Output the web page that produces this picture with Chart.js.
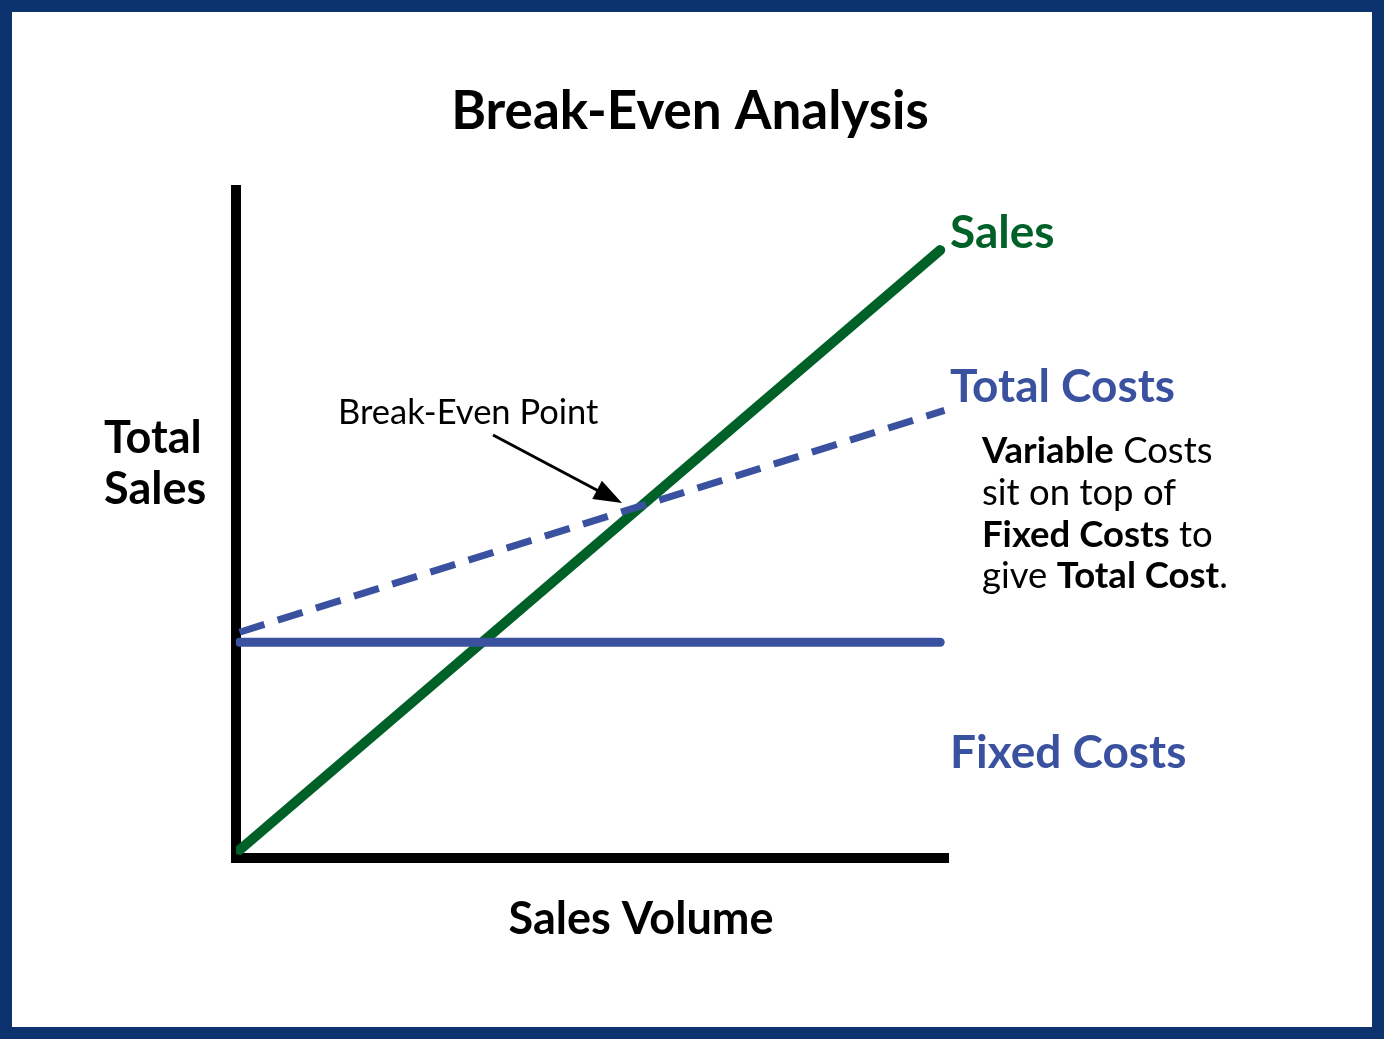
<!DOCTYPE html>
<html><head><meta charset="utf-8">
<script src="https://cdn.jsdelivr.net/npm/chart.js@4"></script>
<style>html,body{margin:0;padding:0;background:#fff}#w{width:1384px;height:1039px;position:relative}</style>
</head><body><div id="w"><canvas id="c"></canvas></div>
<script>
const salesX=[0.5,98.9];
const salesY=[1.2,91];
const totalX=[0.5,99.5];
const totalY=[33.8,67];
const fixedX=[0.5,98.9];
const fixedY=[32.3,32.3];
const F='Lato, "Open Sans", sans-serif';
function pts(xs,ys){return xs.map((x,i)=>({x,y:ys[i]}));}
function mixed(ctx,x,y,parts,size){
  let cx=x;
  for(const [t,b] of parts){ctx.font=(b?'bold ':'')+size+'px '+F;ctx.fillText(t,cx,y);cx+=ctx.measureText(t).width;}
}
const deco={id:'deco',
beforeDraw(ch){const c=ch.ctx;c.save();c.fillStyle='#fff';c.fillRect(0,0,ch.width,ch.height);c.restore();},
afterDraw(ch){
  const c=ch.ctx;c.save();
  c.strokeStyle='#0d336f';c.lineWidth=12;c.strokeRect(6,6,ch.width-12,ch.height-12);
  c.textBaseline='middle';
  c.fillStyle='#000';c.textAlign='center';c.font='bold 53px '+F;c.fillText('Break-Even Analysis',690,112);
  c.font='bold 45px '+F;c.fillText('Sales Volume',641,919);
  c.textAlign='left';c.fillText('Total',104,438);c.fillText('Sales',104,489);
  c.font='34.5px '+F;c.fillText('Break-Even Point',338,413);
  c.fillStyle='#006128';c.font='bold 46px '+F;c.fillText('Sales',950,233);
  c.fillStyle='#3a51a0';c.fillText('Total Costs',950,387);c.fillText('Fixed Costs',950,753);
  c.fillStyle='#000';
  mixed(c,982,451,[['Variable',1],[' Costs',0]],36.5);
  mixed(c,982,493,[['sit on top of',0]],36.5);
  mixed(c,982,535,[['Fixed Costs',1],[' to',0]],36.5);
  mixed(c,982,576,[['give ',0],['Total Cost',1],['.',0]],36.5);
  const x1=493,y1=435,x2=622,y2=503;
  c.strokeStyle='#000';c.lineWidth=3;c.beginPath();c.moveTo(x1,y1);c.lineTo(x2-14,y2-7);c.stroke();
  const a=Math.atan2(y2-y1,x2-x1);
  c.beginPath();c.moveTo(x2,y2);c.lineTo(x2-30*Math.cos(a-0.35),y2-30*Math.sin(a-0.35));c.lineTo(x2-30*Math.cos(a+0.35),y2-30*Math.sin(a+0.35));c.closePath();c.fill();
  c.restore();
}};
new Chart(document.getElementById('c'),{type:'scatter',
data:{datasets:[
 {data:pts(fixedX,fixedY),showLine:true,borderColor:'#3a51a0',borderWidth:9,borderCapStyle:'round',pointRadius:0},
 {data:pts(totalX,totalY),showLine:true,borderColor:'#3a51a0',borderWidth:7,borderDash:[26,14],pointRadius:0},
 {data:pts(salesX,salesY),showLine:true,borderColor:'#006128',borderWidth:10,borderCapStyle:'round',pointRadius:0}
]},
options:{responsive:true,maintainAspectRatio:false,animation:false,
 layout:{padding:{left:236,right:436,top:190,bottom:181}},
 plugins:{legend:{display:false},tooltip:{enabled:false}},
 scales:{
  x:{type:'linear',min:0,max:100,ticks:{display:false},grid:{display:false,drawTicks:false},border:{display:true,color:'#000',width:10}},
  y:{type:'linear',min:0,max:100,ticks:{display:false},grid:{display:false,drawTicks:false},border:{display:true,color:'#000',width:10}}
 }},
plugins:[deco]});
</script></body></html>
